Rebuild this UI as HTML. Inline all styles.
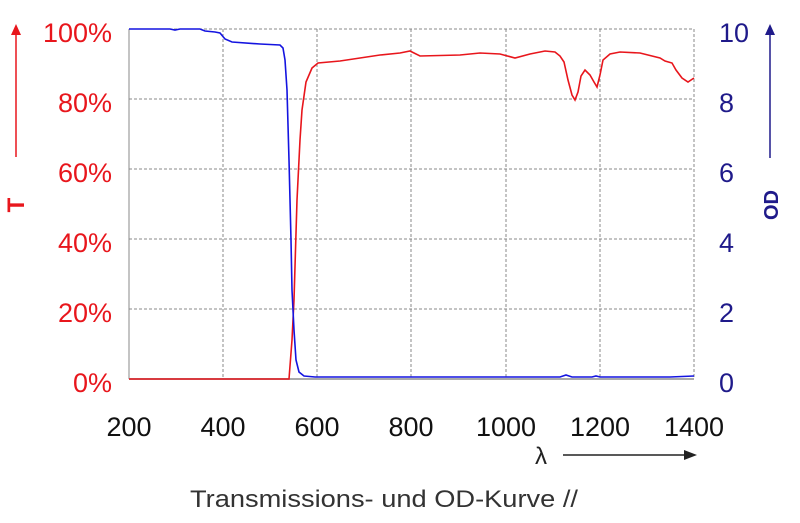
<!DOCTYPE html>
<html><head><meta charset="utf-8"><style>
body{margin:0;background:#fff;}
svg text{font-family:"Liberation Sans",Arial,sans-serif;}
</style></head><body>
<svg width="800" height="518" viewBox="0 0 800 518" xmlns="http://www.w3.org/2000/svg">
<rect width="800" height="518" fill="#fff"/>
<g stroke="#888" stroke-width="1" stroke-dasharray="3,2" fill="none">
<line x1="129" y1="29" x2="694" y2="29"/>
<line x1="129" y1="99" x2="694" y2="99"/>
<line x1="129" y1="169" x2="694" y2="169"/>
<line x1="129" y1="239" x2="694" y2="239"/>
<line x1="129" y1="309" x2="694" y2="309"/>
<line x1="223" y1="29" x2="223" y2="379"/>
<line x1="317" y1="29" x2="317" y2="379"/>
<line x1="411" y1="29" x2="411" y2="379"/>
<line x1="506" y1="29" x2="506" y2="379"/>
<line x1="600" y1="29" x2="600" y2="379"/>
<line x1="694" y1="29" x2="694" y2="379"/>
</g>
<line x1="129" y1="29" x2="129" y2="379" stroke="#888"/>
<line x1="129" y1="379" x2="694" y2="379" stroke="#aaa" stroke-width="2"/>
<polyline fill="none" stroke="#e8161c" stroke-width="1.6" points="129,379 289,379 292,340 294,300 297,200 300,140 302,110 306,82 312,68 318,63 340,61 360,58 380,55 400,53 410,51 420,56 460,55 480,53 500,54 515,58 530,54 545,51 555,52 560,56 564,62 568,80 572,95 575,100 578,92 581,76 585,70 590,75 594,82 597,87 600,75 603,60 610,54 620,52 640,53 660,58 665,61 672,63 676,70 682,78 688,82 694,78"/>
<polyline fill="none" stroke="#1414e0" stroke-width="1.6" points="129,29 170,29 175,30 180,29 200,29 205,31 215,32 220,33 225,39 232,42 260,44 280,45 283,48 285,60 287,90 289,160 291,240 292,290 294,330 296,360 299,372 304,376 315,377 560,377 566,375 572,377 592,377 596,376 600,377 670,377 694,376"/>
<g fill="#e8161c" font-size="27" text-anchor="end">
<text x="112" y="42">100%</text>
<text x="112" y="112">80%</text>
<text x="112" y="182">60%</text>
<text x="112" y="252">40%</text>
<text x="112" y="322">20%</text>
<text x="112" y="392">0%</text>
</g>
<line x1="16" y1="157" x2="16" y2="32" stroke="#e8161c" stroke-width="1.5"/>
<polygon points="16,24 11,35 21,35" fill="#e8161c"/>
<text x="24" y="205" fill="#e8161c" font-size="24" font-weight="bold" transform="rotate(-90 24 205)" text-anchor="middle">T</text>
<g fill="#1f1a8a" font-size="27" text-anchor="start">
<text x="719" y="42">10</text>
<text x="719" y="112">8</text>
<text x="719" y="182">6</text>
<text x="719" y="252">4</text>
<text x="719" y="322">2</text>
<text x="719" y="392">0</text>
</g>
<line x1="770" y1="158" x2="770" y2="34" stroke="#1f1a8a" stroke-width="1.5"/>
<polygon points="770,24 765,35 775,35" fill="#1f1a8a"/>
<text x="778" y="205" fill="#1f1a8a" font-size="20" font-weight="bold" transform="rotate(-90 778 205)" text-anchor="middle">OD</text>
<g fill="#111" font-size="27" text-anchor="middle">
<text x="129" y="436">200</text>
<text x="223" y="436">400</text>
<text x="317" y="436">600</text>
<text x="411" y="436">800</text>
<text x="506" y="436">1000</text>
<text x="600" y="436">1200</text>
<text x="694" y="436">1400</text>
</g>
<text x="535" y="464" font-size="24" fill="#222" font-family="Liberation Serif">λ</text>
<line x1="563" y1="455" x2="688" y2="455" stroke="#222" stroke-width="1.5"/>
<polygon points="697,455 684,450 684,460" fill="#222"/>
<text x="190" y="507" font-size="24" fill="#333" textLength="388" lengthAdjust="spacingAndGlyphs">Transmissions- und OD-Kurve //</text>
</svg>
</body></html>
